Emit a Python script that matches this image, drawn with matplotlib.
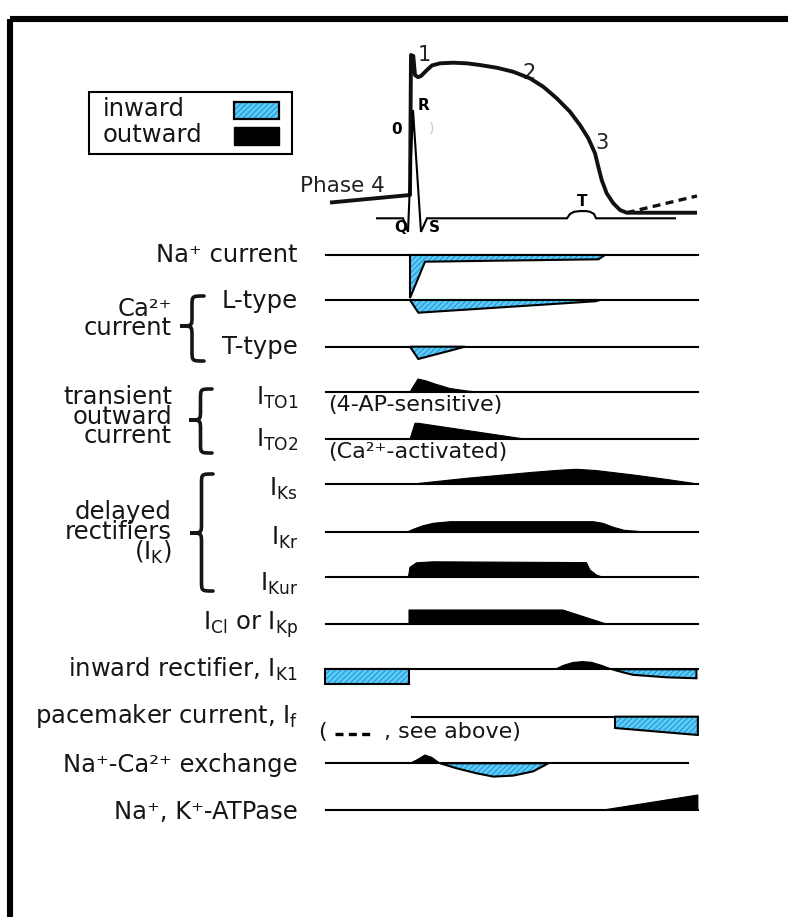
import matplotlib.pyplot as plt
from matplotlib.patches import Polygon, Rectangle, PathPatch
from matplotlib.path import Path

plt.rcParams["font.family"] = ["DejaVu Sans"]
plt.rcParams["mathtext.fontset"] = "dejavusans"
plt.rcParams["hatch.linewidth"] = 0.7

INK = "#161616"
BLUE = "#5ccbf5"
BLUE_HATCH = "#1e8fd6"

# ventricular action potential (time in ms, membrane potential in mV)
AP_T = [-112, 0, 1.4, 4.6, 7, 11.2, 15.4, 23.8, 30.8, 42, 60.6, 79.4, 98,
        121.4, 144.6, 168, 186.6, 205.4, 224, 238, 249.6, 259, 263.6, 268.4,
        275.4, 284.6, 294, 303.4, 401.8]
AP_MV = [-77.4, -71.9, 30.0, 29.3, 15.4, 13.9, 14.7, 19.1, 22.4, 23.95, 24.4,
         23.95, 22.7, 20.75, 17.8, 13.0, 6.9, -1.5, -11.3, -21.0, -30.6,
         -41.5, -51.3, -61.0, -70.7, -77.9, -82.8, -84.8, -84.8]
# pacemaker-type diastolic depolarisation (dashed)
AP_TAIL_T = [303.4, 401.8]
AP_TAIL_MV = [-84.8, -72.6]

# surface ECG (ms, mV)
ECG_T = [-46.2, -9.8, -2.8, 4.2, 15.4, 23.8, 219.8, 224, 229.6, 238, 246.4,
         252, 257.6, 260.4, 371]
ECG_MV = [0, 0, -0.15, 1.2, -0.15, 0, 0, 0.048, 0.072, 0.08, 0.08, 0.072,
          0.048, 0, 0]

# ionic currents (ms, arbitrary units; outward > 0, inward < 0)
NA_T = [0, 0, 21, 263.7, 273]
NA_I = [0, -43, -6.7, -4.3, 0]
CAL_T = [0, 11.7, 259, 266]
CAL_I = [0, -12.7, -1.3, 0]
CAT_T = [0, 11.7, 32.7, 56, 77]
CAT_I = [0, -12.3, -8.3, -4, 0]
TO1_T = [0, 11.2, 23, 35, 56, 80, 95]
TO1_I = [0, 13, 11, 8, 3.5, 1, 0]
TO2_T = [0, 7, 11.7, 163]
TO2_I = [0, 16, 16, 0]
KS_T = [4.7, 79, 126, 172, 210, 233, 260, 313, 360, 403]
KS_I = [0, 5.7, 8.7, 11.7, 13.8, 14.7, 13.5, 9, 4.5, 0]
KR_T = [-4.7, 4.7, 18, 32.7, 56, 256.7, 270, 284.7, 300, 336]
KR_I = [0, 3, 6.5, 9, 10.6, 10.6, 9, 5, 2, 0]
KUR_T = [-2.3, 0, 9.3, 32.7, 247, 252, 261, 270]
KUR_I = [0, 10, 14.5, 15.5, 14.7, 7.3, 2.3, 0]
CL_T = [-1.4, -1.4, 214, 276]
CL_I = [0, 14.3, 14.3, 0]
K1_IN_T = [-119, -119, -1.4, -1.4]
K1_IN_I = [0, -15, -15, 0]
K1_OUT_T = [203, 215, 228, 241, 254, 268, 283]
K1_OUT_I = [0, 4, 6.8, 7.7, 7, 4, 0]
K1_TAIL_T = [283, 298, 312, 359, 401, 401]
K1_TAIL_I = [0, -3, -5.5, -8, -9, 0]
IF_T = [287, 287, 403, 403]
IF_I = [0, -11.3, -18.3, 0]
NCX_OUT_T = [0, 9.3, 21, 30.3, 42]
NCX_OUT_I = [0, 3.3, 8.3, 6, 0]
NCX_IN_T = [42, 65.3, 93.3, 116.7, 144.7, 172.7, 193.7]
NCX_IN_I = [0, -5, -10, -13.3, -12.3, -8, 0]
ATP_T = [270.7, 403, 403]
ATP_I = [0, 15, 0]

W, H = 788, 917
T_MIN, T_MAX = -126, 406      # time span of the trace panel
TRACE_X0, TRACE_X1 = 320, 700  # pixel span of the trace panel

fig = plt.figure(figsize=(W / 100, H / 100), dpi=100)

# layout axes in pixel units: frame, legend, labels, braces
lay = fig.add_axes([0, 0, 1, 1])
lay.set_xlim(0, W)
lay.set_ylim(H, 0)
lay.axis("off")

tr_left = TRACE_X0 / W
tr_width = (TRACE_X1 - TRACE_X0) / W
trace = fig.add_axes([tr_left, 0, tr_width, 1])
trace.set_xlim(T_MIN, T_MAX)
trace.set_ylim(H, 0)
trace.axis("off")
trace.patch.set_alpha(0)

ap_box = [tr_left, (H - 240) / H, tr_width, 200 / H]
ap = fig.add_axes(ap_box)
ap.set_xlim(T_MIN, T_MAX)
ap.set_ylim(-104.65, 40.92)
ap.axis("off")
ap.patch.set_alpha(0)

ecg = fig.add_axes(ap_box)
ecg.set_xlim(T_MIN, T_MAX)
ecg.set_ylim(-0.2404, 1.9756)
ecg.axis("off")
ecg.patch.set_alpha(0)

# outer frame
lay.add_patch(Rectangle((10, 18.5), 820, 940, fill=False, lw=4.4, ec="black"))

# action potential and ECG
ecg.plot(ECG_T, ECG_MV, color="black", lw=1.5, solid_joinstyle="miter")
ap.plot(AP_T, AP_MV, color="#111111", lw=2.8, solid_joinstyle="round",
        solid_capstyle="butt")
ap.plot(AP_TAIL_T, AP_TAIL_MV, color="#111111", lw=2.4, dashes=(2.4, 1.6))

for txt, x, y in [("1", 424, 55), ("2", 529, 73), ("3", 602, 143)]:
    lay.text(x, y, txt, fontsize=15, ha="center", va="center", color="#222222")
for txt, x, y in [("R", 424, 105), ("0", 397, 130), ("Q", 401, 228),
                  ("S", 434, 228), ("T", 582, 202)]:
    lay.text(x, y, txt, fontsize=11, fontweight="bold", ha="center",
             va="center", color="black")
lay.text(432, 128, ")", fontsize=10, ha="center", va="center", color="#c9c9c9")
lay.text(300, 191.5, "Phase 4", fontsize=15.5, ha="left", va="baseline",
         color="#222222")

# legend
lay.add_patch(Rectangle((89, 92), 203, 62, fill=False, lw=1.5, ec="black"))
lay.text(103, 116, "inward", fontsize=17.5, va="baseline", color=INK)
lay.text(103, 142.5, "outward", fontsize=17.5, va="baseline", color=INK)
lay.add_patch(Rectangle((234, 102), 45, 16.5, fc=BLUE, ec=BLUE_HATCH,
                        hatch="//////", lw=0))
lay.add_patch(Rectangle((234, 102), 45, 16.5, fill=False, ec="black", lw=1.6))
lay.add_patch(Rectangle((234, 127), 45, 18, fc="black", ec="black", lw=1))


def current(t, i, base, inward):
    pts = [(a, base - b) for a, b in zip(t, i)]
    if inward:
        trace.add_patch(Polygon(pts, closed=True, fc=BLUE, ec=BLUE_HATCH,
                                hatch="//////", lw=0, zorder=3))
        trace.add_patch(Polygon(pts, closed=True, fill=False, ec="black",
                                lw=1.5, joinstyle="miter", zorder=4))
    else:
        trace.add_patch(Polygon(pts, closed=True, fc="black", ec="black",
                                lw=0.8, zorder=3))


def baseline(base, t0=-117, t1=403):
    trace.plot([t0, t1], [base, base], color="black", lw=1.5, zorder=2)


rows = [
    (255, [(NA_T, NA_I, True)]),
    (300, [(CAL_T, CAL_I, True)]),
    (346.7, [(CAT_T, CAT_I, True)]),
    (392, [(TO1_T, TO1_I, False)]),
    (439.3, [(TO2_T, TO2_I, False)]),
    (484, [(KS_T, KS_I, False)]),
    (532.3, [(KR_T, KR_I, False)]),
    (577.3, [(KUR_T, KUR_I, False)]),
    (624.3, [(CL_T, CL_I, False)]),
    (669.3, [(K1_IN_T, K1_IN_I, True), (K1_OUT_T, K1_OUT_I, False),
             (K1_TAIL_T, K1_TAIL_I, True)]),
    (716.7, [(IF_T, IF_I, True)]),
    (763.3, [(NCX_OUT_T, NCX_OUT_I, False), (NCX_IN_T, NCX_IN_I, True)]),
    (810, [(ATP_T, ATP_I, False)]),
]
for base, shapes in rows:
    if base == 716.7:
        baseline(base, t0=2.8)
    elif base == 763.3:
        baseline(base, t1=389.6)
    else:
        baseline(base)
    for t, i, inward in shapes:
        current(t, i, base, inward)

# right-aligned current names
labels = [
    ("Na⁺ current", 262),
    ("L-type", 308),
    ("T-type", 354),
    (r"I$_{\mathrm{TO1}}$", 405),
    (r"I$_{\mathrm{TO2}}$", 447),
    (r"I$_{\mathrm{Ks}}$", 496),
    (r"I$_{\mathrm{Kr}}$", 545),
    (r"I$_{\mathrm{Kur}}$", 591),
    (r"I$_{\mathrm{Cl}}$ or I$_{\mathrm{Kp}}$", 630),
    (r"inward rectifier, I$_{\mathrm{K1}}$", 677),
    (r"pacemaker current, I$_{\mathrm{f}}$", 723),
    ("Na⁺-Ca²⁺ exchange", 772),
    ("Na⁺, K⁺-ATPase", 819),
]
for txt, y in labels:
    lay.text(298, y, txt, fontsize=17.5, ha="right", va="baseline", color=INK)

# group names, each drawn as one block (y = baseline of the last line)
groups = [
    ("Ca²⁺\ncurrent", 335, 0.72),
    ("transient\noutward\ncurrent", 443, 0.76),
    ("delayed\nrectifiers\n(I$_{\\mathrm{K}}$)", 560, 0.78),
]
for txt, y, spacing in groups:
    lay.text(172, y, txt, fontsize=17.5, ha="right", va="baseline", color=INK,
             multialignment="right", linespacing=spacing)

lay.text(328, 411.5, "(4-AP-sensitive)", fontsize=16, va="baseline", color=INK)
lay.text(328, 458, "(Ca²⁺-activated)", fontsize=16, va="baseline", color=INK)
lay.text(318, 738, "(", fontsize=16, va="baseline", color=INK)
lay.text(384, 738, ", see above)", fontsize=16, va="baseline", color=INK)
lay.plot([335, 372], [734, 734], color="black", lw=2.4, dashes=(2.4, 1.6))


def brace(x_tip, x_arm, y_top, y_tip, y_bot):
    xm = x_tip + 0.5 * (x_arm - x_tip)
    r1 = min(10, (y_tip - y_top) / 3)
    r2 = min(10, (y_bot - y_tip) / 3)
    verts = [
        (x_arm, y_top), (xm, y_top), (xm, y_top), (xm, y_top + r1),
        (xm, y_tip - r1), (xm, y_tip), (xm, y_tip), (x_tip, y_tip),
        (xm, y_tip), (xm, y_tip), (xm, y_tip + r2),
        (xm, y_bot - r2), (xm, y_bot), (xm, y_bot), (x_arm, y_bot),
    ]
    codes = [Path.MOVETO, Path.CURVE4, Path.CURVE4, Path.CURVE4,
             Path.LINETO, Path.CURVE4, Path.CURVE4, Path.CURVE4,
             Path.CURVE4, Path.CURVE4, Path.CURVE4,
             Path.LINETO, Path.CURVE4, Path.CURVE4, Path.CURVE4]
    lay.add_patch(PathPatch(Path(verts, codes), fill=False, lw=2.6,
                            ec=INK, capstyle="round"))


brace(180, 204, 296, 326, 361)
brace(189, 212, 389, 420, 453)
brace(190, 213, 474, 533, 591)

fig.savefig("out.png", dpi=100, facecolor="white")
